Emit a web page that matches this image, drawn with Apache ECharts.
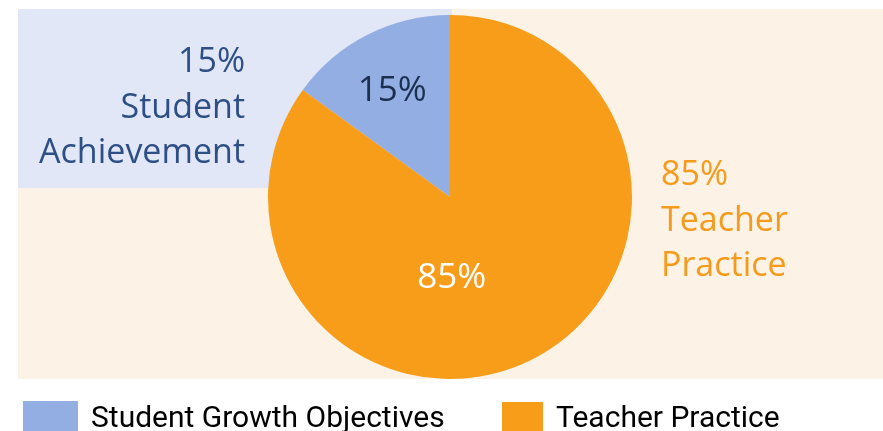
<!DOCTYPE html>
<html>
<head>
<meta charset="utf-8">
<script src="https://cdn.jsdelivr.net/npm/echarts@6/dist/echarts.min.js"></script>
<style>
  html, body { margin: 0; padding: 0; background: #fff; }
  #chart { width: 883px; height: 431px; }
</style>
</head>
<body>
<div id="chart"></div>
<script>
// categories and values
var categories = ['Student Growth Objectives', 'Teacher Practice'];
var values = [15, 85];
var outerLabels = ['15%\nStudent\nAchievement', '85%\nTeacher\nPractice'];

window.onload = function () {
    var myChart = echarts.init(document.getElementById('chart'));
    var legendText = { fontFamily: 'Roboto', fontSize: 30, color: '#000', padding: [0, 0, 0, 8] };
    var option = {
        animation: false,
        color: ['#93aee3', '#f79d1a'],
        graphic: [
            { type: 'rect', z: -10, shape: { x: 18, y: 9, width: 865, height: 370 }, style: { fill: '#fdf2e6' } },
            { type: 'rect', z: -9, shape: { x: 18, y: 9, width: 434, height: 179 }, style: { fill: '#e1e7f6' } },
            {
                type: 'text', x: 245, y: 40,
                style: {
                    text: outerLabels[0], fill: '#2d4f85', font: '34px "Open Sans"',
                    align: 'right', verticalAlign: 'top', lineHeight: 45.5
                }
            },
            {
                type: 'text', x: 661, y: 153,
                style: {
                    text: outerLabels[1], fill: '#f59a1a', font: '34px "Open Sans"',
                    align: 'left', verticalAlign: 'top', lineHeight: 45.5
                }
            }
        ],
        legend: [{
            left: 18, top: 396,
            itemWidth: 55, itemHeight: 36,
            icon: 'rect',
            textStyle: legendText,
            data: [categories[0]]
        }, {
            left: 497, top: 397,
            itemWidth: 41, itemHeight: 35,
            icon: 'rect',
            textStyle: legendText,
            data: [categories[1]]
        }],
        series: [{
            type: 'pie',
            center: [450, 197],
            radius: 182,
            startAngle: 90,
            clockwise: false,
            silent: true,
            itemStyle: { borderWidth: 0 },
            label: {
                position: 'inner',
                fontFamily: 'Open Sans',
                fontSize: 35
            },
            labelLine: { show: false },
            labelLayout: function (params) {
                return params.dataIndex === 0 ? { dx: -15, dy: -22 } : { dx: -41, dy: -3 };
            },
            data: [
                { name: categories[0], value: values[0], label: { color: '#1b2f4f', formatter: values[0] + '%' } },
                { name: categories[1], value: values[1], label: { color: '#ffffff', formatter: values[1] + '%' } }
            ]
        }]
    };
    myChart.setOption(option);
};
</script>
</body>
</html>
